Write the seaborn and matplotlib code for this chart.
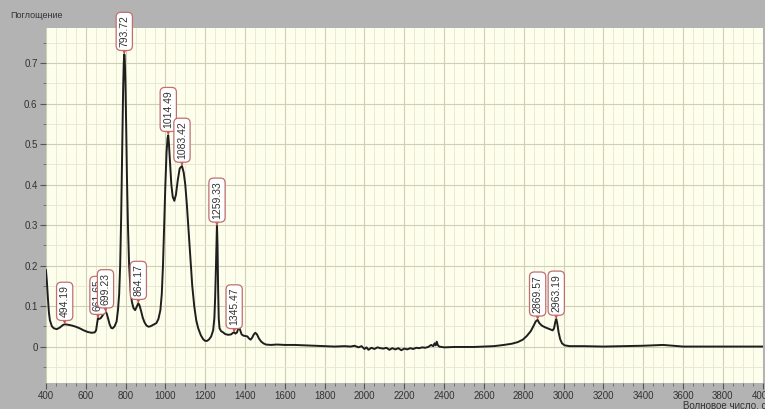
import numpy as np
import pandas as pd
import matplotlib
matplotlib.use("Agg")
import matplotlib.pyplot as plt
import seaborn as sns
from matplotlib.ticker import MultipleLocator, FuncFormatter

wavenumber = [
    400, 405, 410, 415, 420, 430, 440, 455, 470, 485, 494, 510, 530, 550, 570, 590, 610, 630, 645,
    652, 658, 661.65, 666, 675, 685, 695, 699.23, 705, 712, 720, 728, 735, 745, 755, 762, 768, 773,
    778, 783, 788, 791, 793.72, 796, 799, 803, 807, 812, 818, 825, 832, 840, 848, 855, 864.17, 870,
    878, 886, 895, 905, 915, 925, 940, 955, 965, 975, 982, 988, 994, 1000, 1006, 1011, 1014.49, 1018,
    1024, 1030, 1037, 1045, 1053, 1062, 1072, 1083.42, 1092, 1100, 1108, 1116, 1125, 1135, 1145, 1155,
    1165, 1178, 1190, 1200, 1210, 1220, 1230, 1240, 1246, 1250, 1254, 1257, 1259.33, 1262, 1265, 1268,
    1272, 1280, 1290, 1300, 1315, 1330, 1340, 1345.47, 1352, 1360, 1366, 1370, 1376, 1383, 1392, 1402,
    1412, 1420, 1428, 1436, 1444, 1452, 1460, 1470, 1480, 1492, 1505, 1530, 1560, 1600, 1650, 1700,
    1750, 1800, 1850, 1900, 1930, 1950, 1970, 1985, 2000, 2010, 2020, 2035, 2050, 2065, 2080, 2095,
    2110, 2125, 2140, 2155, 2170, 2185, 2200, 2215, 2230, 2245, 2260, 2275, 2290, 2305, 2320, 2335,
    2345, 2352, 2358, 2363, 2368, 2375, 2400, 2450, 2500, 2550, 2600, 2650, 2700, 2740, 2770, 2795,
    2815, 2835, 2850, 2860, 2869.57, 2878, 2890, 2905, 2920, 2935, 2945, 2952, 2958, 2963.19, 2968,
    2975, 2983, 2992, 3005, 3030, 3100, 3200, 3300, 3400, 3450, 3500, 3550, 3600, 3700, 3800, 3900, 4000,
]
absorbance = [
    0.19, 0.16, 0.12, 0.085, 0.065, 0.05, 0.045, 0.043, 0.047, 0.053, 0.055, 0.054, 0.052, 0.049, 0.045,
    0.04, 0.036, 0.034, 0.035, 0.04, 0.06, 0.07, 0.068, 0.07, 0.077, 0.085, 0.086, 0.082, 0.07, 0.055,
    0.046, 0.045, 0.05, 0.062, 0.09, 0.13, 0.2, 0.32, 0.48, 0.64, 0.7, 0.722, 0.71, 0.66, 0.55, 0.42,
    0.3, 0.2, 0.14, 0.11, 0.095, 0.09, 0.097, 0.107, 0.102, 0.088, 0.072, 0.06, 0.052, 0.049, 0.05,
    0.054, 0.058, 0.068, 0.09, 0.13, 0.2, 0.3, 0.4, 0.48, 0.515, 0.522, 0.5, 0.45, 0.4, 0.37, 0.36,
    0.375, 0.41, 0.44, 0.446, 0.43, 0.4, 0.35, 0.29, 0.22, 0.15, 0.1, 0.065, 0.045, 0.028, 0.018, 0.014,
    0.014, 0.018, 0.025, 0.04, 0.07, 0.12, 0.2, 0.27, 0.298, 0.25, 0.14, 0.07, 0.045, 0.038, 0.035,
    0.031, 0.029, 0.03, 0.034, 0.035, 0.032, 0.035, 0.045, 0.05, 0.04, 0.03, 0.027, 0.026, 0.025, 0.02,
    0.017, 0.022, 0.03, 0.034, 0.03, 0.02, 0.013, 0.008, 0.005, 0.004, 0.005, 0.004, 0.004, 0.003,
    0.002, 0.001, 0.0, 0.001, 0.0, 0.002, -0.002, 0.001, -0.006, -0.002, -0.008, -0.003, -0.006, -0.002,
    -0.004, -0.005, -0.003, -0.008, -0.004, -0.007, -0.004, -0.009, -0.005, -0.007, -0.004, -0.006,
    -0.003, -0.004, -0.002, -0.003, -0.001, 0.004, 0.001, 0.008, 0.003, 0.012, 0.004, 0.0, -0.002,
    -0.001, -0.001, -0.001, 0.0, 0.001, 0.004, 0.007, 0.011, 0.017, 0.026, 0.038, 0.052, 0.062, 0.066,
    0.058, 0.052, 0.048, 0.045, 0.042, 0.04, 0.045, 0.06, 0.068, 0.058, 0.035, 0.018, 0.008, 0.003,
    0.001, 0.001, 0.0, 0.001, 0.002, 0.003, 0.004, 0.002, 0.0, 0.0, 0.0, 0.0, 0.0,
]

peak_labels = ["494.19", "661.65", "699.23", "793.72", "864.17", "1014.49", "1083.42",
               "1259.33", "1345.47", "2869.57", "2963.19"]
peak_x = [494.19, 661.65, 699.23, 793.72, 864.17, 1014.49, 1083.42, 1259.33, 1345.47, 2869.57, 2963.19]
peak_y = [0.055, 0.07, 0.086, 0.722, 0.107, 0.522, 0.446, 0.298, 0.035, 0.066, 0.068]

x_ticks = list(range(400, 4001, 200))
y_ticks = [0, 0.1, 0.2, 0.3, 0.4, 0.5, 0.6, 0.7]

x_label = "Волновое число, см-1"
y_label = "Поглощение"

sns.set_theme(style="white")
plt.rcParams['font.family'] = ['Liberation Sans', 'DejaVu Sans']

fig = plt.figure(figsize=(7.65, 4.09), dpi=100, facecolor="#B3B3B3")
ax = fig.add_axes([0.060, 0.0636, 0.937, 0.868])
ax.set_facecolor("#FEFEEC")

df = pd.DataFrame({"x": wavenumber, "y": absorbance})
sns.lineplot(data=df, x="x", y="y", sort=False, ax=ax, color="#1E1E1E", linewidth=1.4)

ax.set_xlim(400, 4000)
ax.set_ylim(-0.09, 0.787)
ax.set_xticks(x_ticks)
ax.set_yticks(y_ticks)
ax.xaxis.set_minor_locator(MultipleLocator(50))
ax.yaxis.set_minor_locator(MultipleLocator(0.05))
ax.yaxis.set_major_formatter(FuncFormatter(lambda v, p: "0" if abs(v) < 1e-9 else f"{v:.1f}"))
ax.grid(which="major", color="#CFCFB8", linewidth=0.8)
ax.grid(which="minor", color="#E6E6D2", linewidth=0.6)
ax.set_axisbelow(True)
for s in ax.spines.values():
    s.set_visible(False)
ax.tick_params(axis="both", which="major", direction="out", length=4, width=0.8,
               color="#555555", labelsize=7, labelcolor="#333333", pad=2, left=True, bottom=True)
ax.tick_params(axis="both", which="minor", direction="out", length=2.5, width=0.6,
               color="#666666", left=True, bottom=True)
ax.set_xlabel("")
ax.set_ylabel("")

fig.text(0.014, 0.962, y_label, fontsize=6.5, color="#333333", ha="left", va="center")
fig.text(0.893, 0.008, x_label, fontsize=7, color="#333333", ha="left", va="center")

for lab, px, py in zip(peak_labels, peak_x, peak_y):
    ax.annotate(lab, xy=(px, py), xytext=(0, 5), textcoords="offset points",
                rotation=90, ha="center", va="bottom", fontsize=7.5, color="#333333",
                annotation_clip=False,
                bbox=dict(boxstyle="round,pad=0.3,rounding_size=0.45", fc="#FFFFFF",
                          ec="#C07070", lw=0.9),
                arrowprops=dict(arrowstyle="-|>,head_length=0.25,head_width=0.12",
                                color="#D05050", lw=0.6, shrinkA=0, shrinkB=0))

fig.savefig("out.png", dpi=100, facecolor=fig.get_facecolor())
